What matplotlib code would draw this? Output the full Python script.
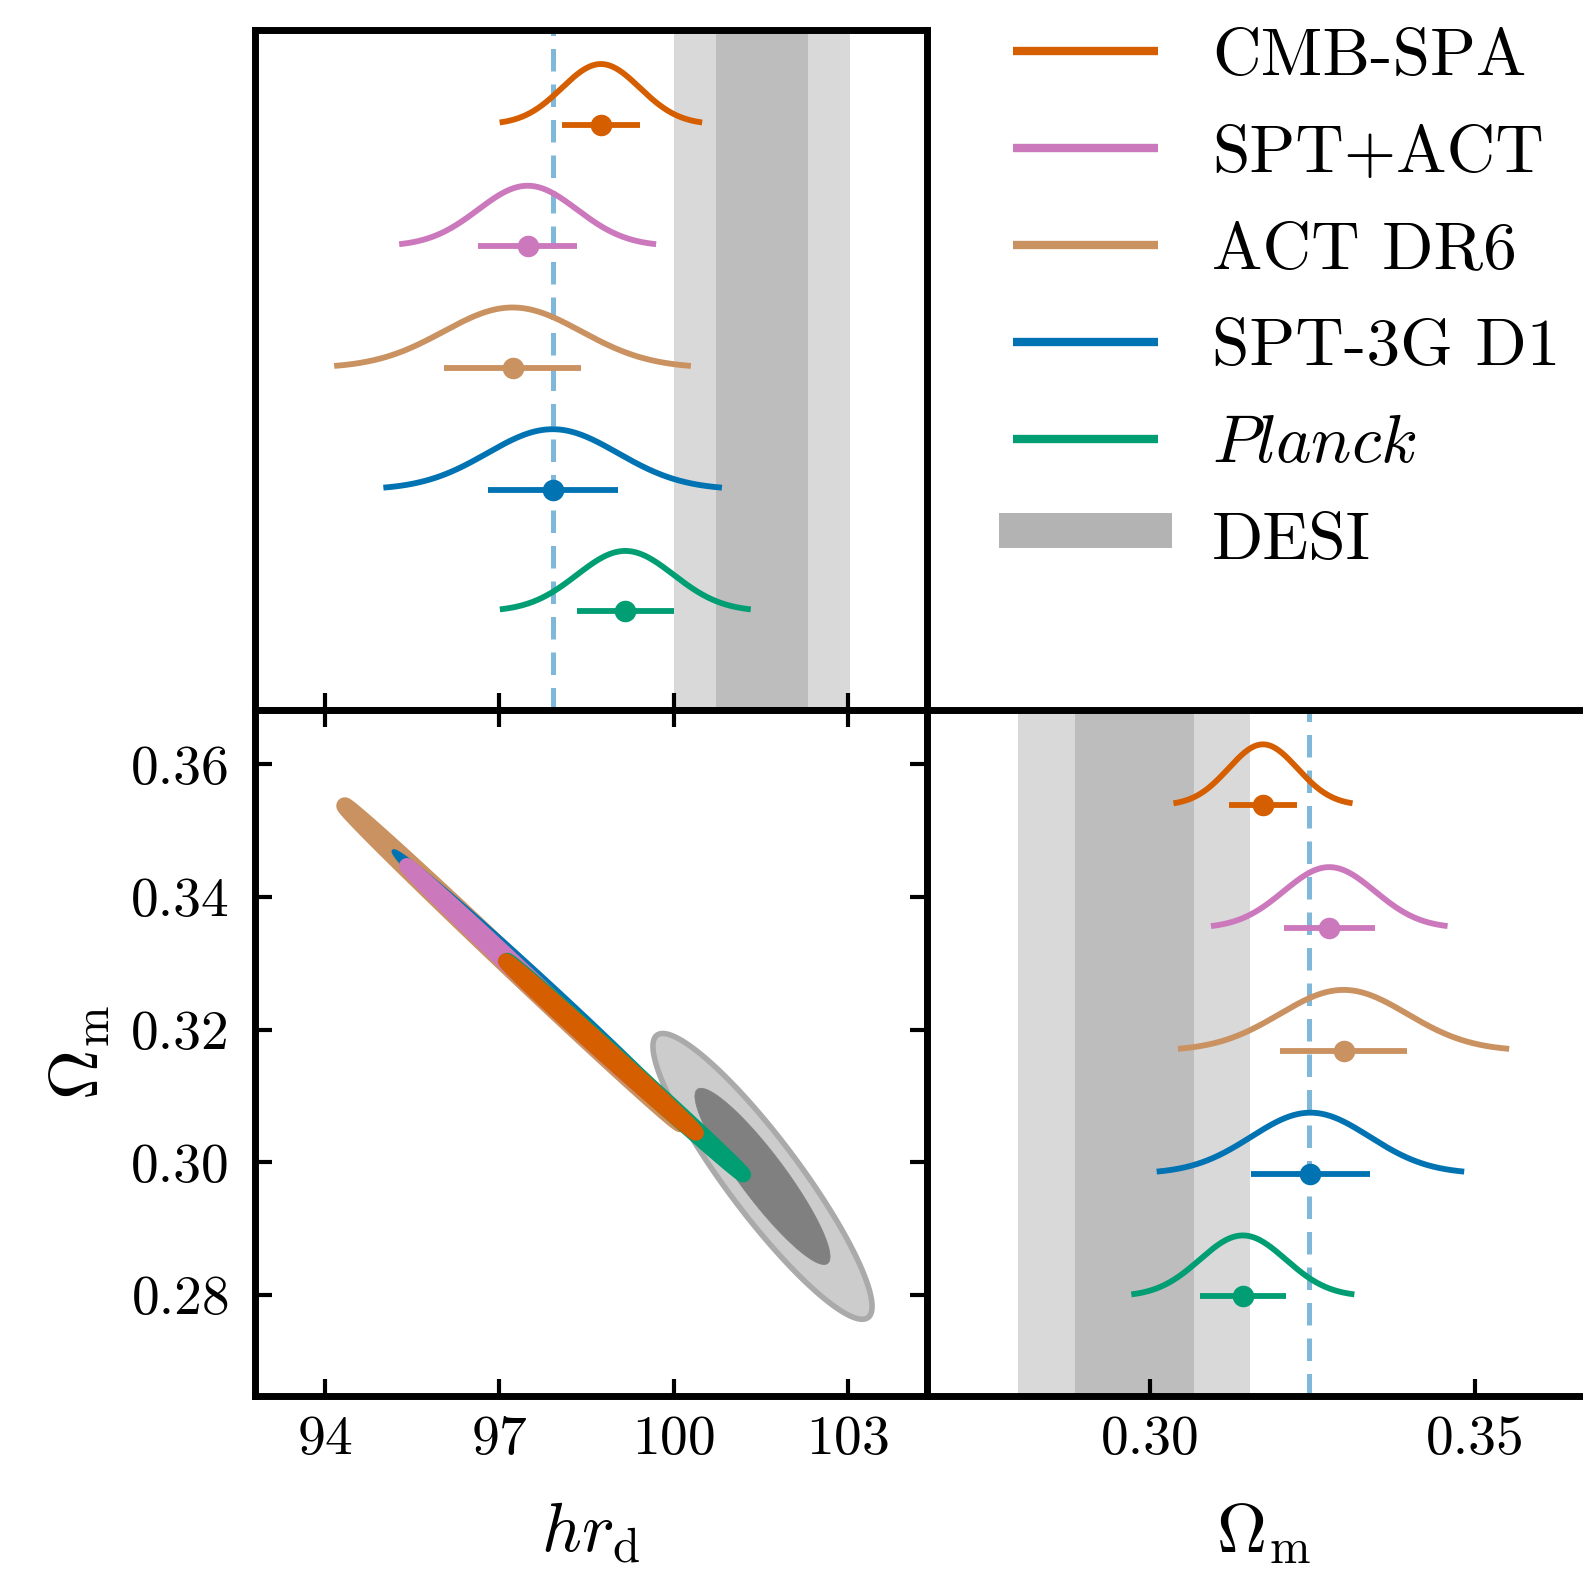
import numpy as np
import matplotlib
matplotlib.use("Agg")
import matplotlib.pyplot as plt
from matplotlib.patches import Rectangle, Patch
from matplotlib.lines import Line2D
from matplotlib.legend_handler import HandlerPatch
from matplotlib.ticker import FixedLocator, StrMethodFormatter

plt.rcParams["font.family"] = ["cmr10", "DejaVu Sans"]
plt.rcParams["mathtext.fontset"] = "cm"
plt.rcParams["axes.formatter.use_mathtext"] = True
plt.rcParams["axes.unicode_minus"] = False

# ---------------- data ----------------
labels = ["CMB-SPA", "SPT+ACT", "ACT DR6", "SPT-3G D1", r"$Planck$"]
colors = ["#D55E00", "#CC78BC", "#CA9161", "#0173B2", "#029E73"]
hrd_mean = [98.75, 97.49, 97.23, 97.92, 99.17]
hrd_sigma = [0.67, 0.85, 1.18, 1.12, 0.83]
om_mean = [0.3174, 0.3276, 0.3298, 0.3247, 0.3143]
om_sigma = [0.0053, 0.0070, 0.0098, 0.0091, 0.0066]
rho = [-0.99850, -0.99911, -0.99906, -0.99574, -0.99903]

desi_label = "DESI"
desi_hrd_68 = [100.73, 102.31]
desi_hrd_95 = [100.00, 103.03]
desi_om_68 = [0.2884, 0.3068]
desi_om_95 = [0.2797, 0.3154]
desi_mean = [101.53, 0.2979]
desi_sigma = [0.77, 0.0088]
desi_rho = -0.91

ref_hrd = 97.92
ref_om = 0.3245

hrd_ticks = [94, 97, 100, 103]
om_ticks_y = [0.28, 0.30, 0.32, 0.34, 0.36]
om_ticks_x = [0.30, 0.35]
hrd_lim = (92.80, 104.36)
om_lim_y = (0.2648, 0.3682)
om_lim_x = (0.2657, 0.3691)

# ---------------- styling ----------------
DESI_LIGHT = "#d9d9d9"
DESI_DARK = "#bdbdbd"
DESI2D_LIGHT = "#cccccc"
DESI2D_EDGE = "#aaaaaa"
DESI2D_DARK = "#808080"
REF_COLOR = "#0173B2"
R95 = np.sqrt(-2 * np.log(0.05))
R68 = np.sqrt(-2 * np.log(0.32))
SPINE_W = 5.0
TICK_FS = 40
LABEL_FS = 50
EDGE_LW = [11.0, 11.0, 12.0, 2.5, 11.0]

fig = plt.figure(figsize=(15.83, 15.80), dpi=100)
ax_top = fig.add_axes([0.1611, 0.5506, 0.4245, 0.4304])
ax_2d = fig.add_axes([0.1611, 0.1165, 0.4245, 0.4341])
ax_rt = fig.add_axes([0.5856, 0.1165, 0.4245, 0.4341])

for ax in (ax_top, ax_2d, ax_rt):
    for sp in ax.spines.values():
        sp.set_linewidth(SPINE_W)
        sp.set_zorder(10)

n = len(labels)
H = 0.089
SPAN = 2.6


def one_d(ax, means, sigmas, ref, band68, band95):
    ax.axvspan(band95[0], band95[1], color=DESI_LIGHT, lw=0, zorder=0)
    ax.axvspan(band68[0], band68[1], color=DESI_DARK, lw=0, zorder=0.5)
    ax.axvline(ref, color=REF_COLOR, alpha=0.5, lw=3.6, ls=(0, (4.5, 2.6)), zorder=1)
    for i in range(n):
        base = 0.145 + 0.179 * (n - 1 - i)
        m, s = means[i], sigmas[i]
        x = np.linspace(m - SPAN * s, m + SPAN * s, 300)
        y = base + H * np.exp(-0.5 * ((x - m) / s) ** 2)
        ax.plot(x, y, color=colors[i], lw=4.2, solid_capstyle="butt", zorder=3)
        ax.errorbar([m], [base], xerr=[s], fmt="o", color=colors[i], ms=14.5,
                    elinewidth=4.2, capsize=0, zorder=4)
    ax.set_ylim(0, 1)


# top-left: hr_d 1D
one_d(ax_top, hrd_mean, hrd_sigma, ref_hrd, desi_hrd_68, desi_hrd_95)
ax_top.set_xlim(*hrd_lim)
ax_top.xaxis.set_major_locator(FixedLocator(hrd_ticks))
ax_top.tick_params(axis="x", direction="in", length=12, width=3, labelbottom=False)
ax_top.set_yticks([])

# bottom-right: Omega_m 1D
one_d(ax_rt, om_mean, om_sigma, ref_om, desi_om_68, desi_om_95)
ax_rt.set_xlim(*om_lim_x)
ax_rt.xaxis.set_major_locator(FixedLocator(om_ticks_x))
ax_rt.xaxis.set_major_formatter(StrMethodFormatter("{x:.2f}"))
ax_rt.tick_params(axis="x", direction="in", length=12, width=3, labelsize=TICK_FS, pad=14)
ax_rt.set_yticks([])
ax_rt.set_xlabel(r"$\Omega_{\rm m}$", fontsize=LABEL_FS, labelpad=26)


# bottom-left: 2D
def ellipse(mx, my, sx, sy, r, level):
    t = np.linspace(0, 2 * np.pi, 1500)
    cov = np.array([[sx ** 2, r * sx * sy], [r * sx * sy, sy ** 2]])
    L = np.linalg.cholesky(cov)
    pts = L @ np.vstack([np.cos(t), np.sin(t)]) * level
    return pts[0] + mx, pts[1] + my


ex, ey = ellipse(desi_mean[0], desi_mean[1], desi_sigma[0], desi_sigma[1], desi_rho, R95)
ax_2d.fill(ex, ey, facecolor=DESI2D_LIGHT, edgecolor=DESI2D_EDGE, lw=4.0,
           joinstyle="round", zorder=1)
ex, ey = ellipse(desi_mean[0], desi_mean[1], desi_sigma[0], desi_sigma[1], desi_rho, R68)
ax_2d.fill(ex, ey, facecolor=DESI2D_DARK, edgecolor=DESI2D_DARK, lw=0.5, zorder=2)

draw_order = [2, 3, 1, 4, 0]
for k, i in enumerate(draw_order):
    ex, ey = ellipse(hrd_mean[i], om_mean[i], hrd_sigma[i], om_sigma[i], rho[i], R95)
    ax_2d.fill(ex, ey, facecolor=colors[i], edgecolor=colors[i], lw=EDGE_LW[i],
               joinstyle="round", zorder=3 + k)

ax_2d.set_xlim(*hrd_lim)
ax_2d.set_ylim(*om_lim_y)
ax_2d.xaxis.set_major_locator(FixedLocator(hrd_ticks))
ax_2d.yaxis.set_major_locator(FixedLocator(om_ticks_y))
ax_2d.yaxis.set_major_formatter(StrMethodFormatter("{x:.2f}"))
ax_2d.tick_params(direction="in", length=12, width=3, labelsize=TICK_FS,
                  top=True, right=True, pad=14)
ax_2d.tick_params(axis="y", pad=18)
ax_2d.set_xlabel(r"$hr_{\rm d}$", fontsize=LABEL_FS, labelpad=26)
ax_2d.set_ylabel(r"$\Omega_{\rm m}$", fontsize=LABEL_FS, labelpad=14)


# legend
def desi_patch(legend, orig_handle, xdescent, ydescent, width, height, fontsize):
    h = 0.73 * height
    return Rectangle((-xdescent - 0.1 * width, -ydescent + 0.5 * height - 0.5 * h + 0.1 * height),
                     1.2 * width, h)


handles = [Line2D([], [], color=c, lw=6, solid_capstyle="butt") for c in colors]
handles.append(Patch(facecolor="#b3b3b3", edgecolor="none"))
fig.legend(handles, labels + [desi_label], loc="upper left",
           bbox_to_anchor=(0.640, 0.9826), bbox_transform=fig.transFigure,
           frameon=False, fontsize=48.5, handlelength=2.15, handletextpad=0.8,
           labelspacing=0.545, borderpad=0, borderaxespad=0,
           handler_map={Patch: HandlerPatch(patch_func=desi_patch)})

fig.savefig("out.png", dpi=100)
